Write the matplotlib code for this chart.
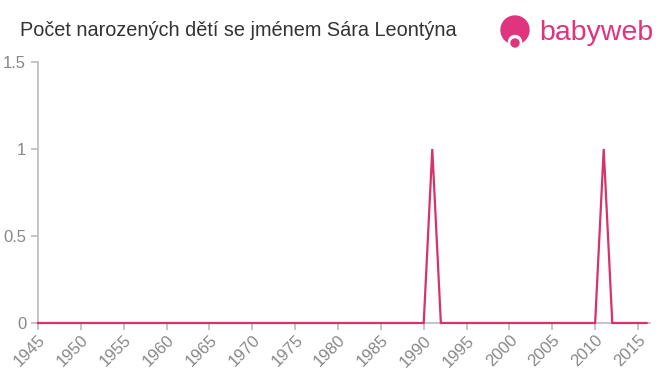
import numpy as np
import matplotlib.pyplot as plt
from matplotlib.patches import Circle

years = list(range(1945, 2017))
counts = [0] * len(years)
counts[years.index(1991)] = 1
counts[years.index(2011)] = 1

yticks = [0, 0.5, 1, 1.5]
ytick_labels = ["0", "0.5", "1", "1.5"]
xticks = list(range(1945, 2016, 5))

plt.rcParams['font.family'] = ['Liberation Sans', 'DejaVu Sans']

fig = plt.figure(figsize=(6.6, 3.75), dpi=100)
ax = fig.add_axes([38/660, 52/375, 612/660, 261/375])

ax.plot(years, counts, color='#d6336c', lw=1.6, solid_joinstyle='miter', clip_on=False, zorder=3)

ax.set_xlim(1945, 2016.4)
ax.set_ylim(0, 1.5)
ax.set_yticks(yticks)
ax.set_yticklabels(ytick_labels)
ax.set_xticks(xticks)
ax.set_xticklabels([str(x) for x in xticks], rotation=45, ha='right', rotation_mode='anchor')

for s in ['top', 'right']:
    ax.spines[s].set_visible(False)
for s in ['left', 'bottom']:
    ax.spines[s].set_color('#bbbbbb')
    ax.spines[s].set_linewidth(1.2)
ax.tick_params(colors='#bbbbbb', labelcolor='#888888', labelsize=12, length=5, width=1.2)
ax.tick_params(axis='x', pad=2)

fig.text(20/660, 1 - 31/375, "Počet narozených dětí se jménem Sára Leontýna",
         fontsize=14.3, color='#333333', va='center', ha='left')

# logo
pink = '#e0357e'
lax = fig.add_axes([0, 0, 1, 1], facecolor='none')
lax.set_xlim(0, 660)
lax.set_ylim(375, 0)
lax.axis('off')
lax.add_patch(Circle((515, 30), 14, color=pink))
lax.add_patch(Circle((515, 42), 6.5, color='white'))
lax.add_patch(Circle((515, 43), 4, color=pink))
lax.text(539, 33, "babyweb", fontsize=20.5, color=pink, va='center', ha='left')

fig.savefig("out.png", dpi=100, facecolor='white')
